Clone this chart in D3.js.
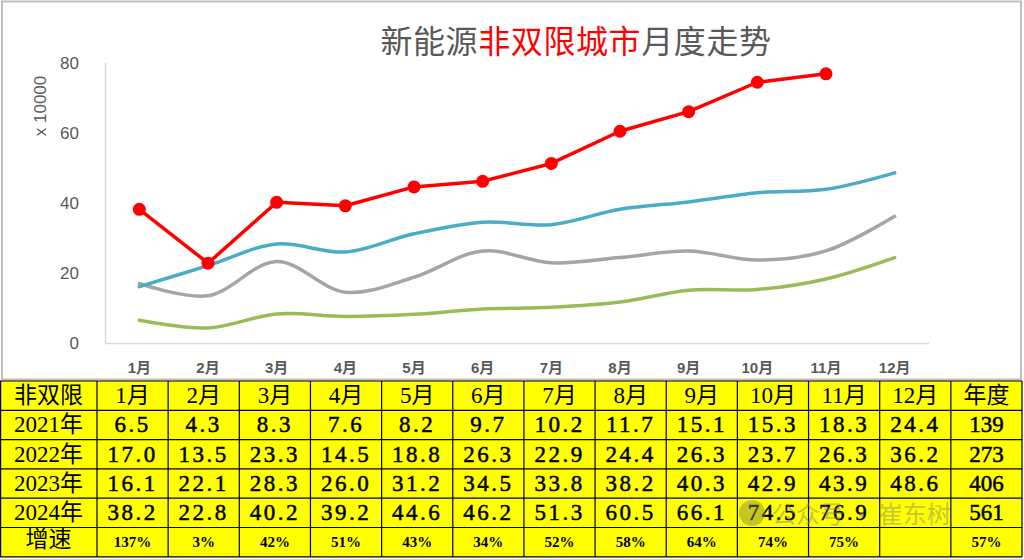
<!DOCTYPE html>
<html>
<head>
<meta charset="utf-8">
<script src="https://cdn.jsdelivr.net/npm/d3@7"></script>
<style>
  body { margin: 0; background: #fff; }
  svg { display: block; }
</style>
</head>
<body>
<script>

  var months = ["1月", "2月", "3月", "4月", "5月", "6月", "7月", "8月", "9月", "10月", "11月", "12月"];
  var years = ["2021年", "2022年", "2023年", "2024年"];
  var y2021 = [6.5, 4.3, 8.3, 7.6, 8.2, 9.7, 10.2, 11.7, 15.1, 15.3, 18.3, 24.4];
  var y2022 = [17.0, 13.5, 23.3, 14.5, 18.8, 26.3, 22.9, 24.4, 26.3, 23.7, 26.3, 36.2];
  var y2023 = [16.1, 22.1, 28.3, 26.0, 31.2, 34.5, 33.8, 38.2, 40.3, 42.9, 43.9, 48.6];
  var y2024 = [38.2, 22.8, 40.2, 39.2, 44.6, 46.2, 51.3, 60.5, 66.1, 74.5, 76.9];
  var totals = [139, 273, 406, 561];
  var growth = ["137%", "3%", "42%", "51%", "43%", "34%", "52%", "58%", "64%", "74%", "75%", "", "57%"];
  var yTicks = [0, 20, 40, 60, 80];

  var W = 1024, H = 559;
  var svg = d3.select("body").append("svg")
      .attr("width", W)
      .attr("height", H);

  // chart frame
  svg.append("rect")
    .attr("x", 2).attr("y", 1.5)
    .attr("width", 1019).attr("height", 378)
    .attr("fill", "#fff")
    .attr("stroke", "#bfbfbf")
    .attr("stroke-width", 2);

  var x = d3.scaleBand().domain(months).range([105, 929]);
  var y = d3.scaleLinear().domain([0, 80]).range([343, 63]);
  var cx = function(i) { return x(months[i]) + x.bandwidth() / 2; };

  // axes lines
  svg.append("line")
    .attr("x1", 105.5).attr("x2", 105.5).attr("y1", 63).attr("y2", 343)
    .attr("stroke", "#d9d9d9").attr("stroke-width", 1.5);
  svg.append("line")
    .attr("x1", 105).attr("x2", 929).attr("y1", 343.5).attr("y2", 343.5)
    .attr("stroke", "#d9d9d9").attr("stroke-width", 1.5);

  svg.selectAll(".ytick").data(yTicks).enter().append("text")
    .attr("x", 79)
    .attr("y", function(d) { return y(d) + 6; })
    .attr("text-anchor", "end")
    .attr("font-family", "Liberation Sans, Arial, sans-serif")
    .attr("font-size", 17)
    .attr("fill", "#595959")
    .text(function(d) { return d; });

  svg.selectAll(".xtick").data(months).enter().append("text")
    .attr("x", function(d) { return x(d) + x.bandwidth() / 2; })
    .attr("y", 373)
    .attr("text-anchor", "middle")
    .attr("font-family", "Liberation Sans, 'Noto Sans CJK SC', sans-serif")
    .attr("font-weight", "bold")
    .attr("font-size", 15)
    .attr("fill", "#595959")
    .text(function(d) { return d; });

  svg.append("text")
    .attr("transform", "translate(46,106) rotate(-90)")
    .attr("text-anchor", "middle")
    .attr("font-family", "Liberation Sans, Arial, sans-serif")
    .attr("font-size", 17)
    .attr("fill", "#595959")
    .text("x 10000");

  // title
  var title = svg.append("text")
    .attr("x", 576).attr("y", 53)
    .attr("text-anchor", "middle")
    .attr("font-family", "'Noto Sans CJK SC', sans-serif")
    .attr("font-size", 32)
    .attr("letter-spacing", 0.6);
  title.append("tspan").attr("fill", "#595959").text("新能源");
  title.append("tspan").attr("fill", "#ff0000").text("非双限城市");
  title.append("tspan").attr("fill", "#595959").text("月度走势");

  // smooth lines
  var smooth = d3.line()
    .x(function(d, i) { return cx(i); })
    .y(function(d) { return y(d); })
    .curve(d3.curveCatmullRom.alpha(0.5));

  var series = [
    { v: y2021, c: "#9bbb59" },
    { v: y2022, c: "#a5a5a5" },
    { v: y2023, c: "#4bacc6" }
  ];
  svg.selectAll(".s").data(series).enter().append("path")
    .attr("d", function(d) { return smooth(d.v); })
    .attr("fill", "none")
    .attr("stroke", function(d) { return d.c; })
    .attr("stroke-width", 3.5)
    .attr("stroke-linecap", "round");

  var straight = d3.line()
    .x(function(d, i) { return cx(i); })
    .y(function(d) { return y(d); });

  svg.append("path")
    .attr("d", straight(y2024))
    .attr("fill", "none")
    .attr("stroke", "#ff0000")
    .attr("stroke-width", 3.5)
    .attr("stroke-linejoin", "round");

  svg.selectAll(".dot").data(y2024).enter().append("circle")
    .attr("cx", function(d, i) { return cx(i); })
    .attr("cy", function(d) { return y(d); })
    .attr("r", 6.5)
    .attr("fill", "#ff0000");

  // table
  var tTop = 381, rowH = 29.3, firstW = 97, colW = (1022 - 97) / 13;
  var header = ["非双限"].concat(months).concat(["年度"]);
  var rowsData = [header];
  [y2021, y2022, y2023, y2024].forEach(function(arr, k) {
    var r = [years[k]];
    for (var i = 0; i < 12; i++) r.push(arr[i] == null ? "" : d3.format(".1f")(arr[i]));
    r.push(String(totals[k]));
    rowsData.push(r);
  });
  rowsData.push(["增速"].concat(growth));

  var colX = function(j) { return j === 0 ? 0 : firstW + (j - 1) * colW; };
  var colWidth = function(j) { return j === 0 ? firstW : colW; };

  var tbl = svg.append("g");
  tbl.append("rect")
    .attr("x", 0).attr("y", tTop)
    .attr("width", 1022).attr("height", rowH * 6)
    .attr("fill", "#ffff00");

  rowsData.forEach(function(row, r) {
    var isNum = function(j) { return r >= 1 && r <= 4 && j > 0; };
    tbl.selectAll(".c" + r).data(row).enter().append("text")
      .attr("x", function(d, j) { return colX(j) + colWidth(j) / 2; })
      .attr("y", tTop + r * rowH + rowH / 2 + (r === 5 ? 5 : 7.5))
      .attr("text-anchor", "middle")
      .attr("font-family", "'Liberation Serif', 'Noto Sans CJK SC', serif")
      .attr("font-weight", function(d, j) { return (r === 5 && j > 0) ? "bold" : "normal"; })
      .attr("font-size", function(d, j) { return (r === 5 && j > 0) ? 15 : 23; })
      .attr("letter-spacing", function(d, j) { return (isNum(j) && j < 13) ? 2.5 : 0; })
      .attr("fill", "#000")
      .attr("stroke", function(d, j) { return isNum(j) ? "#000" : "none"; })
      .attr("stroke-width", 0.5)
      .text(function(d) { return d; });
  });

  for (var r = 0; r <= 6; r++) {
    tbl.append("line")
      .attr("x1", 0).attr("x2", 1022)
      .attr("y1", tTop + r * rowH).attr("y2", tTop + r * rowH)
      .attr("stroke", "#000").attr("stroke-width", 1.2);
  }
  for (var j = 0; j <= 14; j++) {
    var xx = j === 14 ? 1022 : colX(j) + (j === 0 ? 0.6 : 0);
    tbl.append("line")
      .attr("x1", xx).attr("x2", xx)
      .attr("y1", tTop).attr("y2", tTop + rowH * 6)
      .attr("stroke", "#000").attr("stroke-width", 1.2);
  }

  // watermark
  var wm = svg.append("g").attr("opacity", 0.45);
  wm.append("circle").attr("cx", 752).attr("cy", 513).attr("r", 13).attr("fill", "#7f7f50");
  wm.append("text")
    .attr("x", 772).attr("y", 523)
    .attr("font-family", "'Noto Sans CJK SC', sans-serif")
    .attr("font-size", 24)
    .attr("fill", "#808080")
    .text("公众号 · 崔东树");

</script>
</body>
</html>
